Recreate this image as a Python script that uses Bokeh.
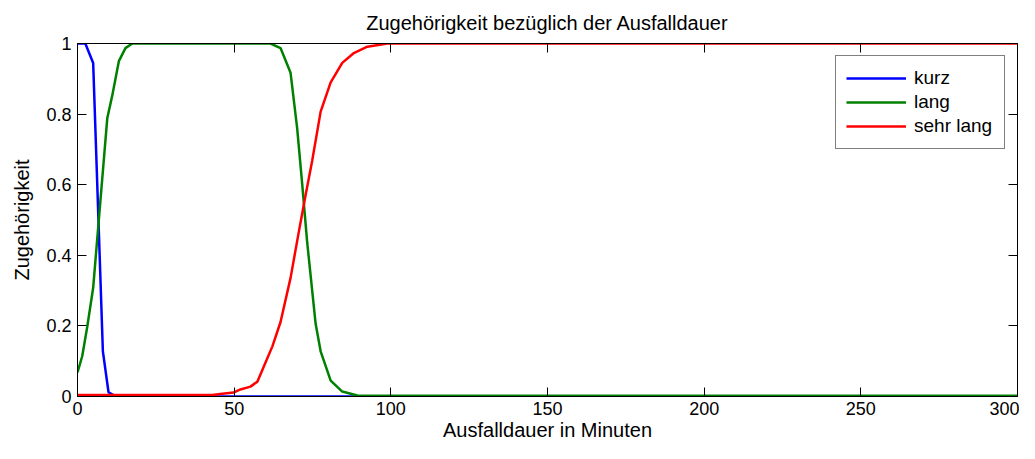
from bokeh.plotting import figure
from bokeh.models import Range1d, LinearAxis, FixedTicker, CustomJSTickFormatter, Legend, LegendItem
from bokeh.embed import file_html
from bokeh.resources import INLINE

# ---- data ----
title_text = "Zugehörigkeit bezüglich der Ausfalldauer"
x_label = "Ausfalldauer in Minuten"
y_label = "Zugehörigkeit"
series_names = ["kurz", "lang", "sehr lang"]

kurz_x = [0, 2.5, 5.0, 8.1, 9.9, 11.6, 14, 300]
kurz_y = [1.0, 1.0, 0.945, 0.128, 0.012, 0.003, 0.0, 0.0]

lang_x = [0, 1.5, 3.1, 5.0, 9.5, 11.1, 13.2, 15.3, 17.5, 61.6, 64.8, 68.0, 70.1,
          71.7, 73.3, 76.0, 77.6, 80.8, 84.5, 89.3, 95, 300]
lang_y = [0.068, 0.114, 0.197, 0.308, 0.788, 0.853, 0.95, 0.987, 1.0, 1.0, 0.987,
          0.917, 0.76, 0.603, 0.437, 0.206, 0.128, 0.045, 0.014, 0.003, 0.002, 0.002]

sehr_x = [0, 43, 46.2, 49.8, 52.0, 55.2, 57.4, 59.5, 62.2, 64.8, 68.0, 70.6, 72.7,
          74.9, 77.6, 80.8, 84.5, 88.2, 92.5, 98.9, 300]
sehr_y = [0.004, 0.004, 0.008, 0.011, 0.02, 0.028, 0.042, 0.086, 0.142, 0.211, 0.336,
          0.465, 0.566, 0.668, 0.807, 0.89, 0.945, 0.973, 0.991, 1.0, 1.0]

x_ticks = [0, 50, 100, 150, 200, 250, 300]
y_ticks = [0, 0.2, 0.4, 0.6, 0.8, 1.0]

colors = ["#0000ff", "#008000", "#ff0000"]

FONT = "Liberation Sans"

p = figure(width=1019, height=443, output_backend="svg", toolbar_location=None,
           x_range=Range1d(0, 300), y_range=Range1d(0, 1),
           min_border_left=77, min_border_right=2, min_border_top=42, min_border_bottom=46,
           background_fill_color="white", border_fill_color="white")

p.title.text = title_text
p.title.align = "center"
p.title.text_font = FONT
p.title.text_font_size = "20px"
p.title.text_font_style = "normal"
p.title.text_color = "black"
p.title.standoff = 19

p.xgrid.visible = False
p.ygrid.visible = False
p.outline_line_color = "black"
p.outline_line_width = 1

ylab_fmt = CustomJSTickFormatter(code="return String(Math.round(tick*10)/10)")
blank_fmt = CustomJSTickFormatter(code="return ''")


def style(ax, ticks, fmt, label=None):
    ax.ticker = FixedTicker(ticks=ticks)
    ax.formatter = fmt
    ax.major_tick_in = 9
    ax.major_tick_out = 0
    ax.minor_tick_in = 0
    ax.minor_tick_out = 0
    ax.major_tick_line_color = "black"
    ax.axis_line_color = "black"
    ax.major_label_text_font = FONT
    ax.major_label_text_font_size = "18px"
    ax.major_label_text_color = "black"
    ax.major_label_standoff = 6
    if label is not None:
        ax.axis_label = label
        ax.axis_label_text_font = FONT
        ax.axis_label_text_font_size = "20px"
        ax.axis_label_text_font_style = "normal"
        ax.axis_label_text_color = "black"


style(p.xaxis[0], x_ticks, CustomJSTickFormatter(code="return String(tick)"), x_label)
p.xaxis[0].major_label_standoff = 5
p.xaxis[0].axis_label_standoff = 1
style(p.yaxis[0], y_ticks, ylab_fmt, y_label)
p.yaxis[0].axis_label_standoff = 10

top = LinearAxis()
style(top, x_ticks, blank_fmt)
top.major_label_text_font_size = "1px"
top.major_label_standoff = 0
p.add_layout(top, "above")

right = LinearAxis()
style(right, y_ticks, blank_fmt)
right.major_label_text_font_size = "1px"
right.major_label_standoff = 0
p.add_layout(right, "right")

r1 = p.line(kurz_x, kurz_y, line_color=colors[0], line_width=2.5)
r2 = p.line(lang_x, lang_y, line_color=colors[1], line_width=2.5)
r3 = p.line(sehr_x, sehr_y, line_color=colors[2], line_width=2.5)

legend = Legend(items=[LegendItem(label=series_names[0], renderers=[r1]),
                       LegendItem(label=series_names[1], renderers=[r2]),
                       LegendItem(label=series_names[2], renderers=[r3])],
                location="top_right")
legend.margin = 12
legend.padding = 10
legend.spacing = 0
legend.glyph_width = 60
legend.glyph_height = 24
legend.label_height = 24
legend.label_width = 80
legend.label_standoff = 8
legend.label_text_font = FONT
legend.label_text_font_size = "19px"
legend.label_text_color = "black"
legend.border_line_color = "black"
legend.border_line_width = 1
legend.background_fill_color = "white"
legend.background_fill_alpha = 1
p.add_layout(legend, "center")

open("out.html", "w").write(file_html(p, INLINE))
